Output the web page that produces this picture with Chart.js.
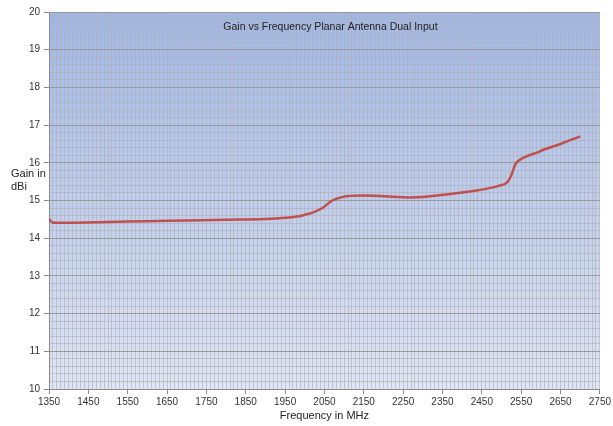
<!DOCTYPE html>
<html>
<head>
<meta charset="utf-8">
<script src="https://cdn.jsdelivr.net/npm/chart.js@4"></script>
<style>
  body { margin: 0; background: #ffffff; }
</style>
</head>
<body>
<canvas id="chart" width="613" height="426"></canvas>
<script>
// Readings taken off the reference curve
const frequencies = [1350, 1360, 1400, 1500, 1600, 1700, 1800, 1900, 1950, 1985, 2000, 2020, 2045, 2070, 2095, 2145, 2190, 2270, 2360, 2440, 2490, 2515, 2525, 2535, 2548, 2595, 2610, 2650, 2700];
const gains = [14.51, 14.41, 14.41, 14.43, 14.45, 14.47, 14.49, 14.51, 14.54, 14.58, 14.62, 14.68, 14.80, 15.00, 15.09, 15.13, 15.12, 15.08, 15.16, 15.27, 15.38, 15.49, 15.67, 15.96, 16.09, 16.29, 16.36, 16.50, 16.70];

const xMin = 1350, xMax = 2750, xMajor = 100, xMinor = 10;
const yMin = 10, yMax = 20, yMinor = 0.2;

const chartTitle = 'Gain vs Frequency Planar Antenna Dual Input';
const yTitleLines = ['Gain in', 'dBi'];
const xTitle = 'Frequency in MHz';

const FONT = "'Liberation Sans', Arial, sans-serif";

const isXMajor = v => Math.abs((v - xMin) % xMajor) < 1e-6;
const isYMajor = v => Math.abs(v - Math.round(v)) < 1e-6;

// plot background gradient + custom texts
const decorPlugin = {
    id: 'decor',
    beforeDraw(chart) {
        const { ctx, chartArea: a } = chart;
        const g = ctx.createLinearGradient(0, a.top, 0, a.bottom);
        g.addColorStop(0, 'rgb(160,183,230)');
        g.addColorStop(1, 'rgb(223,229,244)');
        ctx.save();
        ctx.fillStyle = g;
        ctx.fillRect(a.left, a.top, a.right - a.left, a.bottom - a.top);
        ctx.restore();
    },
    afterDraw(chart) {
        const { ctx, chartArea: a } = chart;
        ctx.save();
        ctx.fillStyle = '#222222';
        ctx.textAlign = 'center';
        ctx.textBaseline = 'middle';
        ctx.font = '10.5px ' + FONT;
        ctx.fillText(chartTitle, (a.left + a.right) / 2 + 6, 27);

        ctx.font = '11px ' + FONT;
        ctx.fillText(xTitle, (a.left + a.right) / 2, 416);

        ctx.textAlign = 'left';
        ctx.fillText(yTitleLines[0], 11, 174);
        ctx.fillText(yTitleLines[1], 11, 187);
        ctx.restore();
    }
};

new Chart(document.getElementById('chart'), {
    type: 'scatter',
    data: {
        datasets: [{
            data: frequencies.map((f, i) => ({ x: f, y: gains[i] })),
            showLine: true,
            borderColor: '#c0504d',
            borderWidth: 2.5,
            pointRadius: 0,
            cubicInterpolationMode: 'monotone'
        }]
    },
    options: {
        responsive: false,
        animation: false,
        layout: { padding: { top: 12, right: 11, left: 0, bottom: 0 } },
        plugins: {
            legend: { display: false },
            tooltip: { enabled: false }
        },
        scales: {
            x: {
                type: 'linear',
                min: xMin,
                max: xMax,
                afterBuildTicks(scale) {
                    const t = [];
                    for (let v = xMin; v <= xMax; v += xMinor) t.push({ value: v });
                    scale.ticks = t;
                },
                afterFit(scale) { scale.height = 37; },
                ticks: {
                    autoSkip: false,
                    maxRotation: 0,
                    padding: 2,
                    color: '#333333',
                    font: { family: FONT, size: 10 },
                    callback: v => isXMajor(v) ? String(v) : ''
                },
                grid: {
                    color: 'rgba(175,175,180,0.6)',
                    tickLength: 5,
                    tickColor: c => (c.tick && isXMajor(c.tick.value)) ? '#8c8c8c' : 'rgba(0,0,0,0)'
                },
                border: { color: '#8c8c8c' }
            },
            y: {
                min: yMin,
                max: yMax,
                afterBuildTicks(scale) {
                    const t = [];
                    for (let i = 0; i <= Math.round((yMax - yMin) / yMinor); i++) {
                        t.push({ value: Math.round((yMin + i * yMinor) * 10) / 10 });
                    }
                    scale.ticks = t;
                },
                afterFit(scale) { scale.width = 49; },
                ticks: {
                    autoSkip: false,
                    padding: 4,
                    color: '#333333',
                    font: { family: FONT, size: 10 },
                    callback: v => isYMajor(v) ? String(Math.round(v)) : ''
                },
                grid: {
                    color: c => (c.tick && isYMajor(c.tick.value)) ? '#9a9a9a' : 'rgba(175,175,180,0.6)',
                    tickLength: 5,
                    tickColor: c => (c.tick && isYMajor(c.tick.value)) ? '#8c8c8c' : 'rgba(0,0,0,0)'
                },
                border: { color: '#8c8c8c' }
            }
        }
    },
    plugins: [decorPlugin]
});
</script>
</body>
</html>
